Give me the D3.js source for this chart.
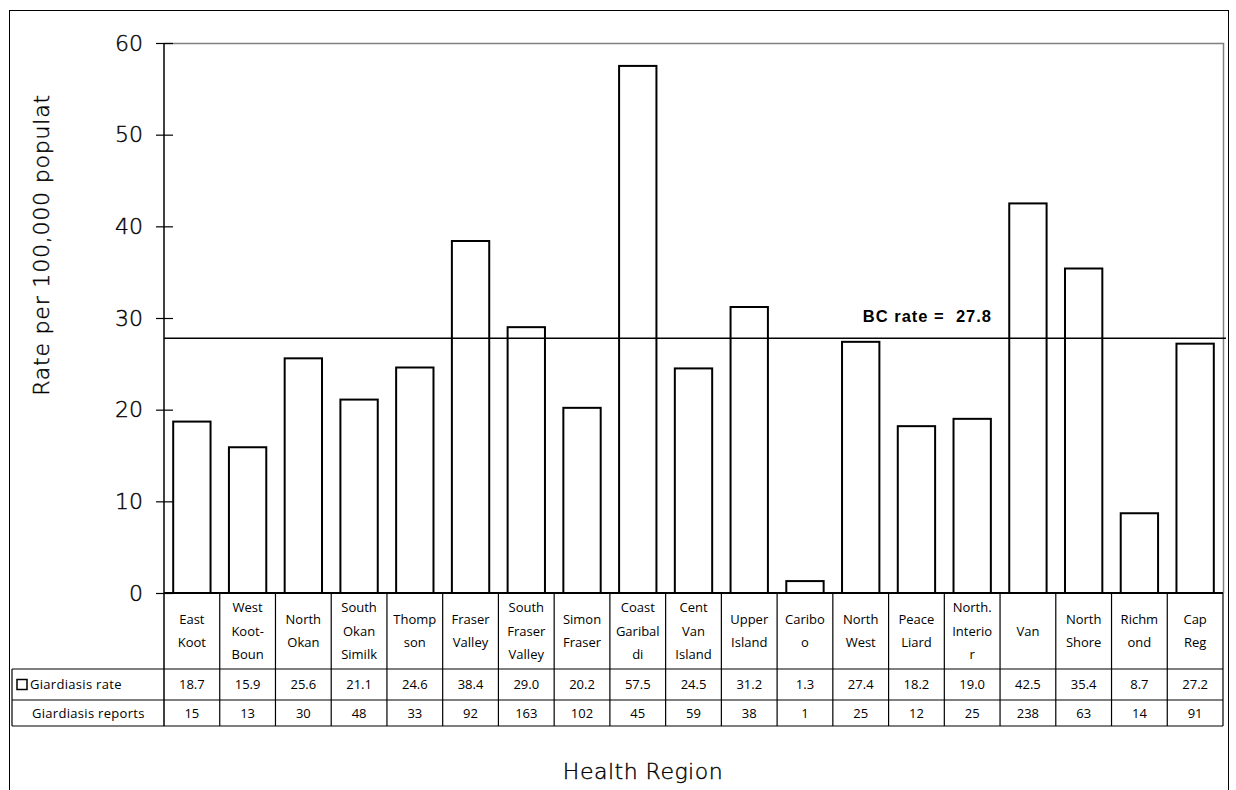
<!DOCTYPE html>
<html>
<head>
<meta charset="utf-8">
<script src="https://cdn.jsdelivr.net/npm/d3@7"></script>
<style>
  html, body { margin: 0; padding: 0; background: #fff; }
  svg { display: block; font-family: "Open Sans", "DejaVu Sans", sans-serif; }
  .thin { font-family: "DejaVu Sans", sans-serif; font-weight: 200; }
  .thin text, text.thin { stroke: #000; stroke-width: 0.4px; }
</style>
</head>
<body>
<svg id="chart" width="1236" height="790"></svg>
<script>
// Health regions (label lines as printed in the category row)
const regionLabels = [
  ["East", "Koot"], ["West", "Koot-", "Boun"], ["North", "Okan"], ["South", "Okan", "Similk"],
  ["Thomp", "son"], ["Fraser", "Valley"], ["South", "Fraser", "Valley"], ["Simon", "Fraser"],
  ["Coast", "Garibal", "di"], ["Cent", "Van", "Island"], ["Upper", "Island"], ["Caribo", "o"],
  ["North", "West"], ["Peace", "Liard"], ["North.", "Interio", "r"], ["Van"],
  ["North", "Shore"], ["Richm", "ond"], ["Cap", "Reg"]
];
const regions = regionLabels.map(l => l.join(" "));
const giardiasisRate = [18.7, 15.9, 25.6, 21.1, 24.6, 38.4, 29.0, 20.2, 57.5, 24.5, 31.2, 1.3, 27.4, 18.2, 19.0, 42.5, 35.4, 8.7, 27.2];
const giardiasisReports = [15, 13, 30, 48, 33, 92, 163, 102, 45, 59, 38, 1, 25, 12, 25, 238, 63, 14, 91];
const bcRate = 27.8;
const yTicks = [0, 10, 20, 30, 40, 50, 60];

const svg = d3.select("#chart");

// Layout
const L = 164, R = 1223, T = 43, B = 593;
const labelRowBottom = 669, rateRowBottom = 700, reportRowBottom = 726, tableLeft = 12;

const x = d3.scaleBand().domain(regions).range([L, R]).paddingInner(0.33).paddingOuter(0.165);
const cell = d3.scaleBand().domain(regions).range([L, R]).padding(0);
const y = d3.scaleLinear().domain([0, 60]).range([B, T]);

// Outer frame
svg.append("rect").attr("x", 9.5).attr("y", 10.5).attr("width", 1219).attr("height", 800)
  .attr("fill", "none").attr("stroke", "#000").attr("stroke-width", 1);

// Plot frame (top and right, grey)
svg.append("path").attr("d", `M${L},${T + 0.5}H${R + 0.5}V${B}`)
  .attr("fill", "none").attr("stroke", "#808080").attr("stroke-width", 1.5);

// Bars
svg.append("g").selectAll("rect").data(regions).join("rect")
  .attr("x", d => x(d))
  .attr("y", (d, i) => y(giardiasisRate[i]))
  .attr("width", x.bandwidth())
  .attr("height", (d, i) => y(0) - y(giardiasisRate[i]))
  .attr("fill", "#fff").attr("stroke", "#000").attr("stroke-width", 2);

// BC reference rate
svg.append("line").attr("x1", L).attr("x2", 1226).attr("y1", y(bcRate)).attr("y2", y(bcRate))
  .attr("stroke", "#000").attr("stroke-width", 1.5);
svg.append("text").attr("x", 992).attr("y", y(bcRate) - 16).attr("text-anchor", "end")
  .attr("font-size", 16.5).attr("font-weight", "bold").attr("letter-spacing", 1)
  .attr("font-family", "Liberation Sans, Arial, sans-serif")
  .style("white-space", "pre")
  .text("BC rate =  " + bcRate.toFixed(1));

// Y axis
const yAxis = svg.append("g").attr("transform", `translate(${L},0)`)
  .call(d3.axisLeft(y).tickValues(yTicks).tickSizeInner(8).tickSizeOuter(0).tickPadding(13))
  .attr("font-family", null).attr("font-size", null).attr("class", "thin");
yAxis.select(".domain").remove();
yAxis.selectAll(".tick line").attr("x1", 9).attr("stroke-width", 1.2);
yAxis.selectAll(".tick text").attr("font-size", 22).attr("fill", "#000");
svg.append("line").attr("x1", L).attr("x2", L).attr("y1", T).attr("y2", reportRowBottom)
  .attr("stroke", "#000").attr("stroke-width", 1.5);

// Zero line
svg.append("line").attr("x1", L).attr("x2", R).attr("y1", B).attr("y2", B)
  .attr("stroke", "#000").attr("stroke-width", 2);

// Y axis title
svg.append("text").attr("class", "thin").attr("transform", `translate(49,245) rotate(-90)`)
  .attr("text-anchor", "middle").attr("font-size", 22).attr("letter-spacing", 0.8).attr("fill", "#000")
  .text("Rate per 100,000 populat");

// Data table grid
const grid = svg.append("g").attr("stroke", "#000").attr("stroke-width", 1.2);
grid.selectAll("line.v").data(regions).join("line").attr("class", "v")
  .attr("x1", d => cell(d) + cell.bandwidth()).attr("x2", d => cell(d) + cell.bandwidth())
  .attr("y1", B).attr("y2", reportRowBottom);
grid.append("line").attr("x1", tableLeft).attr("x2", R).attr("y1", labelRowBottom).attr("y2", labelRowBottom);
grid.append("line").attr("x1", tableLeft).attr("x2", R).attr("y1", rateRowBottom).attr("y2", rateRowBottom);
grid.append("line").attr("x1", tableLeft).attr("x2", R).attr("y1", reportRowBottom).attr("y2", reportRowBottom);
grid.append("line").attr("x1", tableLeft).attr("x2", tableLeft).attr("y1", labelRowBottom).attr("y2", reportRowBottom);

// Category labels
const tableFont = 13;
const lineH = 23.5;
const labelG = svg.append("g").attr("font-size", tableFont).attr("text-anchor", "middle").attr("fill", "#000");
regions.forEach((r, i) => {
  const lines = regionLabels[i];
  const cx = cell(r) + cell.bandwidth() / 2;
  const mid = (B + labelRowBottom) / 2;
  const t = labelG.append("text").attr("x", cx);
  lines.forEach((ln, k) => {
    t.append("tspan").attr("x", cx)
      .attr("y", mid + (k - (lines.length - 1) / 2) * lineH)
      .attr("dy", "0.35em").text(ln);
  });
});

// Rate and report rows
const valG = svg.append("g").attr("font-size", tableFont).attr("text-anchor", "middle").attr("fill", "#000");
valG.selectAll("text.rate").data(regions).join("text").attr("class", "rate")
  .attr("x", d => cell(d) + cell.bandwidth() / 2)
  .attr("y", (labelRowBottom + rateRowBottom) / 2).attr("dy", "0.35em")
  .text((d, i) => giardiasisRate[i].toFixed(1));
valG.selectAll("text.rep").data(regions).join("text").attr("class", "rep")
  .attr("x", d => cell(d) + cell.bandwidth() / 2)
  .attr("y", (rateRowBottom + reportRowBottom) / 2).attr("dy", "0.35em")
  .text((d, i) => giardiasisReports[i]);

// Row headers with legend key
svg.append("rect").attr("x", 17).attr("y", (labelRowBottom + rateRowBottom) / 2 - 5)
  .attr("width", 10).attr("height", 10).attr("fill", "#fff").attr("stroke", "#000").attr("stroke-width", 1.5);
svg.append("text").attr("x", 30).attr("y", (labelRowBottom + rateRowBottom) / 2).attr("dy", "0.35em")
  .attr("font-size", tableFont).attr("letter-spacing", 0.3).text("Giardiasis rate");
svg.append("text").attr("x", 32).attr("y", (rateRowBottom + reportRowBottom) / 2).attr("dy", "0.35em")
  .attr("font-size", tableFont).attr("letter-spacing", 0.3).text("Giardiasis reports");

// X axis title
svg.append("text").attr("class", "thin").attr("x", 643).attr("y", 779).attr("text-anchor", "middle")
  .attr("font-size", 22).attr("letter-spacing", 0.5).attr("fill", "#000").text("Health Region");
</script>
</body>
</html>
